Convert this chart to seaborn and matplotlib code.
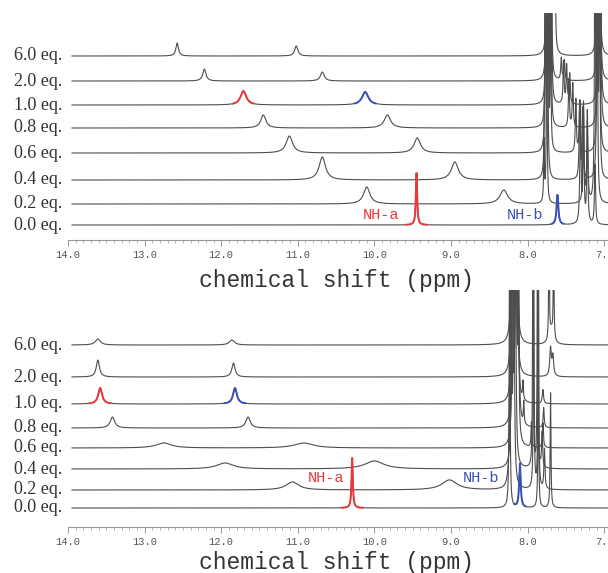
import numpy as np
import matplotlib
matplotlib.use("Agg")
import matplotlib.pyplot as plt
from matplotlib.ticker import MultipleLocator, FormatStrFormatter
import seaborn as sns

eq_labels = ["6.0 eq.", "2.0 eq.", "1.0 eq.", "0.8 eq.", "0.6 eq.", "0.4 eq.", "0.2 eq.", "0.0 eq."]

# ---------- upper titration: NH-a / NH-b peaks (ppm, height, half width) ----------
top_nh = [
    [(12.575, 13, 0.020), (11.02, 10, 0.025)],
    [(12.22, 12, 0.025), (10.68, 9, 0.030)],
    [(11.71, 14, 0.045), (10.12, 13, 0.050)],
    [(11.45, 13, 0.040), (9.83, 13, 0.050)],
    [(11.11, 17, 0.050), (9.44, 15, 0.050)],
    [(10.68, 23, 0.050), (8.95, 18, 0.055)],
    [(10.10, 17, 0.050), (8.31, 14, 0.060)],
    [(9.45, 52, 0.010), (7.61, 30, 0.014)],
]
top_arom = [
    [(7.745, 300, .006), (7.715, 300, .006), (7.68, 250, .006), (7.645, 200, .006), (7.085, 400, .006), (7.06, 300, .006)],
    [(7.75, 300, .006), (7.72, 280, .006), (7.69, 200, .006), (7.56, 22, .008), (7.52, 20, .008), (7.08, 400, .006), (7.055, 300, .006)],
    [(7.755, 300, .006), (7.725, 260, .006), (7.69, 200, .006), (7.53, 42, .008), (7.49, 38, .008), (7.45, 30, .008), (7.075, 400, .006), (7.05, 300, .006)],
    [(7.76, 300, .006), (7.73, 260, .006), (7.695, 180, .006), (7.46, 48, .008), (7.41, 44, .008), (7.08, 400, .006), (7.05, 300, .006)],
    [(7.765, 300, .006), (7.735, 250, .006), (7.70, 150, .006), (7.37, 53, .008), (7.32, 50, .008), (7.085, 400, .006), (7.06, 280, .006)],
    [(7.77, 300, .006), (7.74, 250, .006), (7.32, 77, .008), (7.28, 70, .008), (7.09, 400, .006), (7.06, 250, .006)],
    [(7.785, 61, .006), (7.75, 200, .006), (7.27, 100, .008), (7.22, 90, .008), (7.12, 400, .006), (7.09, 250, .006)],
    [(7.31, 120, .008), (7.27, 110, .008), (7.22, 100, .008), (7.12, 60, .008)],
]

# ---------- lower titration ----------
bot_nh = [
    [(13.61, 6, 0.040), (11.86, 5, 0.040)],
    [(13.61, 17, 0.025), (11.84, 14, 0.025)],
    [(13.58, 16, 0.030), (11.82, 16, 0.030)],
    [(13.42, 11, 0.035), (11.65, 11, 0.035)],
    [(12.75, 5, 0.120), (10.92, 5, 0.150)],
    [(11.95, 6, 0.130), (10.00, 8, 0.150)],
    [(11.07, 8, 0.100), (9.02, 10, 0.120)],
    [(10.29, 50, 0.010), (8.10, 44, 0.012)],
]
bot_arom = [
    [(8.20, 400, .008), (8.17, 400, .008), (8.14, 200, .008), (7.72, 120, .005), (7.66, 120, .005), (7.69, 14, .03)],
    [(8.20, 400, .008), (8.165, 350, .008), (8.14, 200, .008), (7.70, 28, .012), (7.67, 20, .012)],
    [(8.195, 400, .008), (8.16, 350, .008), (8.13, 200, .008), (8.06, 18, .006), (7.80, 14, .01)],
    [(8.19, 400, .008), (8.155, 350, .008), (8.12, 200, .008), (8.05, 22, .006), (7.79, 20, .008)],
    [(8.19, 400, .008), (8.15, 300, .008), (8.12, 150, .008), (7.95, 25, .006), (7.80, 25, .008)],
    [(8.20, 400, .008), (8.16, 300, .008), (7.93, 300, .005), (7.87, 300, .005), (7.81, 35, .008)],
    [(8.22, 400, .008), (8.18, 300, .008), (7.92, 300, .005), (7.86, 300, .005), (7.78, 40, .008)],
    [(8.235, 300, .006), (7.86, 150, .006), (7.70, 115, .006)],
]

# layout: baseline of each trace (pixels above the axis line)
top_offsets = [184, 159, 135, 112, 87, 60, 36, 15]
bot_offsets = [182, 150, 123, 99, 79, 58, 37, 19]
highlight_rows = [2, 7]

RED = "#e8383a"
BLUE = "#3a52b4"
GRAY = "#4d4d4d"

ppm = np.linspace(13.95, 6.95, 8001)


def spectrum(peaks):
    y = np.zeros_like(ppm)
    for c, h, w in peaks:
        y += h * w ** 2 / ((ppm - c) ** 2 + w ** 2)
    return y


sns.set_style("white")
plt.rcParams["font.family"] = ["Liberation Mono", "DejaVu Sans"]

fig = plt.figure(figsize=(6.08, 5.73), dpi=100)
ax_top = fig.add_axes([68 / 608, (573 - 240) / 573, 540 / 608, 227 / 573])
ax_bot = fig.add_axes([68 / 608, (573 - 527) / 573, 540 / 608, 237 / 573])


def draw_panel(ax, nh, arom, offsets, ytop, nh_text):
    for i, (pk, ar, off) in enumerate(zip(nh, arom, offsets)):
        y = off + spectrum(pk + ar)
        sns.lineplot(x=ppm, y=y, ax=ax, color=GRAY, lw=0.8, estimator=None, sort=False)
        if i in highlight_rows:
            for (c, h, w), col in zip(pk, [RED, BLUE]):
                half = 0.14 if w > 0.02 or c > 9 else 0.08
                m = np.abs(ppm - c) < half
                sns.lineplot(x=ppm[m], y=y[m], ax=ax, color=col, lw=1.4, estimator=None, sort=False)
        ax.text(-0.1, off, eq_labels[i], transform=ax.get_yaxis_transform(), ha="left", va="center",
                family="Liberation Serif", fontsize=13, color="#333333", clip_on=False)
    for (x, y, s), col in zip(nh_text, [RED, BLUE]):
        ax.text(x, y, s, color=col, fontsize=11, ha="center", va="center")
    ax.set_xlim(14.0, 6.95)
    ax.set_ylim(0, ytop)
    ax.set_xlabel("")
    ax.set_ylabel("")
    ax.set_yticks([])
    ax.patch.set_alpha(0)
    for s in ["top", "left", "right"]:
        ax.spines[s].set_visible(False)
    ax.spines["bottom"].set_color("#999999")
    ax.spines["bottom"].set_linewidth(0.8)
    ax.xaxis.set_major_locator(MultipleLocator(1.0))
    ax.xaxis.set_minor_locator(MultipleLocator(0.1))
    ax.xaxis.set_major_formatter(FormatStrFormatter("%.1f"))
    ax.tick_params(axis="x", which="major", direction="out", length=4, width=0.7, color="#999999",
                   labelsize=7.5, labelcolor="#555555", pad=3, bottom=True)
    ax.tick_params(axis="x", which="minor", direction="out", length=2.5, width=0.6, color="#aaaaaa",
                   bottom=True)


draw_panel(ax_top, top_nh, top_arom, top_offsets, 227,
           [(9.915, 25, "NH-a"), (8.03, 25, "NH-b")])
draw_panel(ax_bot, bot_nh, bot_arom, bot_offsets, 237,
           [(10.63, 49, "NH-a"), (8.61, 49, "NH-b")])

fig.text(336 / 608, (573 - 280) / 573, "chemical shift (ppm)", ha="center", va="center",
         fontsize=16.5, color="#333333")
fig.text(336 / 608, (573 - 563) / 573, "chemical shift (ppm)", ha="center", va="center",
         fontsize=16.5, color="#333333")

fig.savefig("out.png", dpi=100)
